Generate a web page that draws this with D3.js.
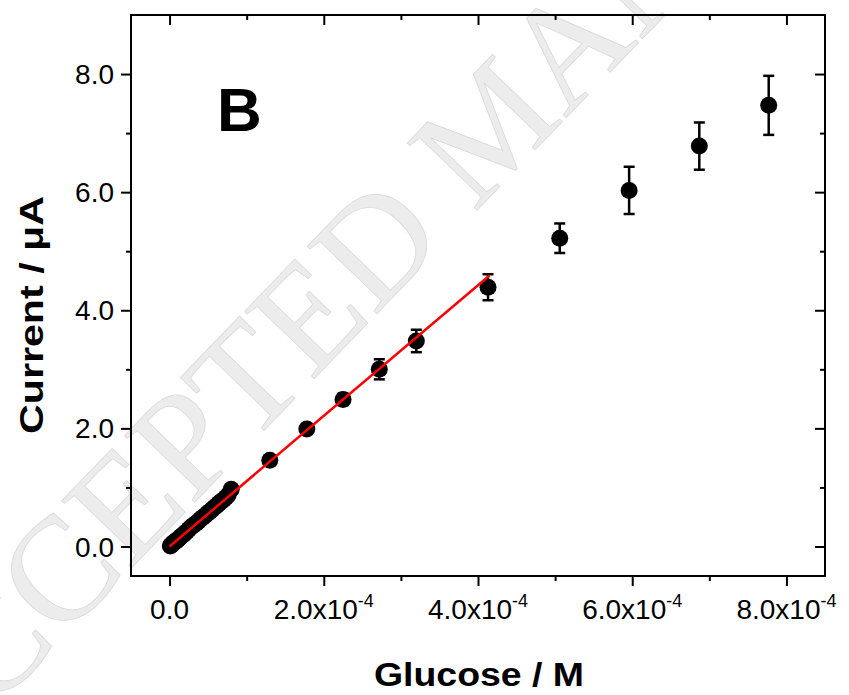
<!DOCTYPE html>
<html>
<head>
<meta charset="utf-8">
<script src="https://cdn.jsdelivr.net/npm/d3@7"></script>
<style>
  html, body { margin: 0; padding: 0; background: #fff; }
  svg { display: block; }
</style>
</head>
<body>
<svg id="chart" width="849" height="695"></svg>
<script>
// ---- data ----
// glucose concentration (M)
const glucose = [
  0.01e-4, 0.02e-4, 0.03e-4, 0.04e-4, 0.05e-4, 0.06e-4, 0.07e-4, 0.08e-4, 0.09e-4, 0.10e-4,
  0.12e-4, 0.14e-4, 0.16e-4, 0.18e-4, 0.20e-4, 0.22e-4, 0.25e-4, 0.28e-4, 0.31e-4, 0.34e-4,
  0.37e-4, 0.40e-4, 0.43e-4, 0.46e-4, 0.49e-4, 0.52e-4, 0.55e-4, 0.58e-4, 0.61e-4, 0.64e-4,
  0.67e-4, 0.70e-4, 0.73e-4, 0.76e-4, 0.80e-4,
  1.30e-4, 1.78e-4, 2.25e-4, 2.72e-4, 3.20e-4, 4.13e-4, 5.06e-4, 5.96e-4, 6.87e-4, 7.77e-4
];
// current (µA)
const current = [
  0.01, 0.02, 0.03, 0.05, 0.06, 0.07, 0.08, 0.09, 0.10, 0.11,
  0.13, 0.16, 0.18, 0.20, 0.23, 0.25, 0.29, 0.33, 0.36, 0.39,
  0.42, 0.46, 0.49, 0.52, 0.56, 0.59, 0.62, 0.66, 0.69, 0.73,
  0.76, 0.79, 0.83, 0.87, 0.97,
  1.46, 1.99, 2.49, 3.00, 3.48, 4.39, 5.22, 6.03, 6.78, 7.47
];
// error (± µA)
const errorBar = [
  0.01, 0.01, 0.01, 0.01, 0.01, 0.01, 0.01, 0.01, 0.01, 0.01,
  0.01, 0.01, 0.01, 0.01, 0.01, 0.01, 0.01, 0.01, 0.01, 0.01,
  0.02, 0.02, 0.02, 0.02, 0.02, 0.02, 0.02, 0.02, 0.02, 0.02,
  0.03, 0.03, 0.03, 0.03, 0.03,
  0.05, 0.06, 0.10, 0.17, 0.19, 0.22, 0.25, 0.40, 0.40, 0.50
];
// linear fit
const fitSlope = 11060;      // µA / M
const fitIntercept = 0.0;    // µA
const fitRange = [0, 4.15e-4];

// axes
const xDomain = [-0.5e-4, 8.5e-4];
const yDomain = [-0.5, 9.0];
const xMajorTicks = [0, 2e-4, 4e-4, 6e-4, 8e-4];
const xMinorTicks = [1e-4, 3e-4, 5e-4, 7e-4];
const xTickMantissa = ["0.0", "2.0", "4.0", "6.0", "8.0"];
const xTickExponent = ["", "-4", "-4", "-4", "-4"];
const yMajorTicks = [0, 2, 4, 6, 8];
const yMinorTicks = [1, 3, 5, 7];
const yTickLabels = ["0.0", "2.0", "4.0", "6.0", "8.0"];
const xTitle = "Glucose / M";
const yTitle = "Current / \u03BCA";
const panelLabel = "B";
const watermark = "ACCEPTED MANUSCRIPT";

// ---- drawing ----
const SANS = "Arial, 'Liberation Sans', Helvetica, sans-serif";
const svg = d3.select("#chart");
const L = 131, R = 825, T = 15, B = 576;

const x = d3.scaleLinear().domain(xDomain).range([L, R]);
const y = d3.scaleLinear().domain(yDomain).range([B, T]);

// watermark
svg.append("text")
  .attr("transform", "translate(-83,790) rotate(-46)")
  .style("font-family", "'Liberation Serif', 'Times New Roman', serif")
  .style("font-size", "148px")
  .attr("fill", "#ececec")
  .attr("stroke", "#d9d9d9")
  .attr("stroke-width", 0.8)
  .text(watermark);

// axes
const majorLen = 10, minorLen = 5;
function addAxis(axisGen, transform) {
  return svg.append("g").attr("transform", transform).call(axisGen)
    .call(g => g.select(".domain").remove())
    .call(g => g.selectAll("line").attr("stroke", "#000").attr("stroke-width", 2));
}
const allX = xMajorTicks.concat(xMinorTicks);
const allY = yMajorTicks.concat(yMinorTicks);

const gxB = addAxis(d3.axisBottom(x).tickValues(allX).tickSize(majorLen).tickFormat(""), `translate(0,${B})`);
gxB.selectAll(".tick").filter(d => xMinorTicks.includes(d)).select("line").attr("y2", minorLen);
const gxT = addAxis(d3.axisBottom(x).tickValues(allX).tickSize(majorLen).tickFormat(""), `translate(0,${T})`);
gxT.selectAll(".tick").filter(d => xMinorTicks.includes(d)).select("line").attr("y2", minorLen);
const gyL = addAxis(d3.axisLeft(y).tickValues(allY).tickSize(majorLen).tickFormat(""), `translate(${L},0)`);
gyL.selectAll(".tick").filter(d => yMinorTicks.includes(d)).select("line").attr("x2", -minorLen);
const gyR = addAxis(d3.axisLeft(y).tickValues(allY).tickSize(majorLen).tickFormat(""), `translate(${R},0)`);
gyR.selectAll(".tick").filter(d => yMinorTicks.includes(d)).select("line").attr("x2", -minorLen);

// frame
svg.append("rect")
  .attr("x", L).attr("y", T).attr("width", R - L).attr("height", B - T)
  .attr("fill", "none").attr("stroke", "#000").attr("stroke-width", 2);

// x tick labels
const xl = svg.append("g").selectAll("text").data(xMajorTicks).join("text")
  .attr("x", d => x(d))
  .attr("y", B + 43)
  .attr("text-anchor", "middle")
  .style("font-family", SANS)
  .style("font-size", "28px")
  .attr("fill", "#000");
xl.each(function(d, i) {
  const t = d3.select(this);
  if (xTickExponent[i]) {
    t.append("tspan").text(xTickMantissa[i] + "x10");
    t.append("tspan").style("font-size", "18px").attr("dy", -12).text(xTickExponent[i]);
  } else {
    t.text(xTickMantissa[i]);
  }
});

// y tick labels
svg.append("g").selectAll("text").data(yMajorTicks).join("text")
  .attr("x", L - majorLen - 7)
  .attr("y", d => y(d))
  .attr("dy", "0.36em")
  .attr("text-anchor", "end")
  .style("font-family", SANS)
  .style("font-size", "28px")
  .attr("fill", "#000")
  .text((d, i) => yTickLabels[i]);

// axis titles
svg.append("text")
  .attr("x", 479).attr("y", 686)
  .attr("text-anchor", "middle")
  .attr("textLength", 210).attr("lengthAdjust", "spacingAndGlyphs")
  .style("font-family", SANS)
  .style("font-size", "33px").style("font-weight", "bold")
  .text(xTitle);
svg.append("text")
  .attr("transform", `translate(43,315) rotate(-90)`)
  .attr("text-anchor", "middle")
  .attr("textLength", 238).attr("lengthAdjust", "spacingAndGlyphs")
  .style("font-family", SANS)
  .style("font-size", "34px").style("font-weight", "bold")
  .text(yTitle);

// panel label
svg.append("text")
  .attr("x", 217).attr("y", 131)
  .style("font-family", SANS)
  .style("font-size", "62px").style("font-weight", "bold")
  .text(panelLabel);

// data
const pts = glucose.map((g, i) => ({ g, c: current[i], e: errorBar[i] }));

const eb = svg.append("g").attr("stroke", "#000").attr("stroke-width", 2.5);
eb.selectAll("line.v").data(pts).join("line").attr("class", "v")
  .attr("x1", d => x(d.g)).attr("x2", d => x(d.g))
  .attr("y1", d => y(d.c - d.e)).attr("y2", d => y(d.c + d.e));
eb.selectAll("line.t").data(pts).join("line").attr("class", "t")
  .attr("x1", d => x(d.g) - 5.5).attr("x2", d => x(d.g) + 5.5)
  .attr("y1", d => y(d.c + d.e)).attr("y2", d => y(d.c + d.e));
eb.selectAll("line.b").data(pts).join("line").attr("class", "b")
  .attr("x1", d => x(d.g) - 5.5).attr("x2", d => x(d.g) + 5.5)
  .attr("y1", d => y(d.c - d.e)).attr("y2", d => y(d.c - d.e));

svg.append("g").selectAll("circle").data(pts).join("circle")
  .attr("cx", d => x(d.g)).attr("cy", d => y(d.c))
  .attr("r", 8.5).attr("fill", "#000");

const fitLine = d3.line().x(d => x(d)).y(d => y(fitIntercept + fitSlope * d));
svg.append("path")
  .datum(fitRange)
  .attr("d", fitLine)
  .attr("fill", "none").attr("stroke", "#ff0000").attr("stroke-width", 2.5);
</script>
</body>
</html>
